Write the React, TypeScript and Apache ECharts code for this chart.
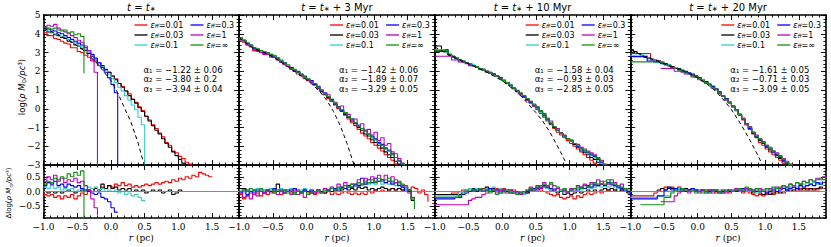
import React, { useEffect, useRef } from 'react';
import * as echarts from 'echarts';

// ---------- data ----------
const rBins = [-1.0,-0.95,-0.9,-0.85,-0.8,-0.75,-0.7,-0.65,-0.6,-0.55,-0.5,-0.45,-0.4,-0.35,-0.3,-0.25,-0.2,-0.15,-0.1,-0.05,0.0,0.05,0.1,0.15,0.2,0.25,0.3,0.35,0.4,0.45,0.5,0.55,0.6,0.65,0.7,0.75,0.8,0.85,0.9,0.95,1.0,1.05,1.1,1.15,1.2,1.25,1.3,1.35,1.4,1.45,1.5,1.55,1.6,1.65,1.7,1.75,1.8,1.85,1.9];

const effLabels = ['0.01', '0.03', '0.1', '0.3', '1', '∞'];
const seriesColors = ['#ff0000', '#000000', '#33cccc', '#0000ff', '#bf00bf', '#138f13'];
const titleSuffix = ['', ' + 3 Myr', ' + 10 Myr', ' + 20 Myr'];
const alpha1 = ['−1.22 ± 0.06', '−1.42 ± 0.06', '−1.58 ± 0.04', '−1.61 ± 0.05'];
const alpha2 = ['−3.80 ± 0.2', '−1.89 ± 0.07', '−0.93 ± 0.03', '−0.71 ± 0.03'];
const alpha3 = ['−3.94 ± 0.04', '−3.29 ± 0.05', '−2.85 ± 0.05', '−3.09 ± 0.05'];
const alphaSubs = ['₁', '₂', '₃'];
const _ = null;

// panel 1 (t = t*) density profiles
const red1 = [4.05,3.90,3.90,3.75,3.70,3.60,3.50,3.45,3.25,3.25,3.05,3.00,2.85,2.75,2.60,2.50,2.30,2.25,2.05,1.95,1.75,1.60,1.35,1.20,0.95,0.80,0.50,0.35,0.10,-0.10,-0.40,-0.60,-0.85,-1.05,-1.30,-1.50,-1.80,-1.95,-2.25,-2.35,-2.55,-2.65,-2.85,-2.95,-3.20];
const black1 = [4.20,4.10,4.05,3.95,3.90,3.80,3.75,3.60,3.55,3.40,3.35,3.20,3.10,2.95,2.80,2.60,2.45,2.30,2.10,1.95,1.75,1.55,1.35,1.15,0.95,0.70,0.50,0.30,0.05,-0.15,-0.40,-0.65,-0.90,-1.15,-1.35,-1.60,-1.85,-2.05,-2.30,-2.50,-2.70,-2.90,-3.10];
const cyan1 = [4.25,4.15,4.10,4.00,3.95,3.85,3.80,3.70,3.60,3.50,3.40,3.30,3.15,3.00,2.85,2.65,2.45,2.25,2.05,1.85,1.60,1.40,1.15,0.95,0.70,0.45,0.20,-0.05,-0.45,-0.85,-5];
const blue1 = [4.30,4.25,4.20,4.15,4.05,4.00,3.90,3.80,3.70,3.60,3.50,3.40,3.25,3.10,2.90,2.70,2.45,2.20,1.95,1.65,1.30,0.85,-5];
const magenta1 = [4.35,4.45,4.40,4.50,4.30,4.20,4.10,4.00,3.90,3.80,3.65,3.55,3.35,3.10,2.55,1.95,-5];
const green1 = [4.35,4.30,4.25,4.30,4.20,4.15,4.20,4.05,4.10,3.95,4.00,3.85,1.90];
const fitR1 = [-1.0,-0.8,-0.6,-0.4,-0.2,0.0,0.1,0.2,0.3,0.4,0.5,0.55];
const fitV1 = [4.3,4.0,3.6,3.1,2.4,1.5,0.85,0.05,-0.75,-1.8,-3.1,-3.9];

// panel 1 residuals
const red1b = [-0.10,-0.15,-0.10,-0.20,-0.15,-0.25,-0.15,-0.20,-0.10,-0.25,-0.15,-0.05,-0.10,0.05,0.00,0.10,0.05,0.15,0.10,0.20,0.15,0.25,0.20,0.30,0.20,0.25,0.15,0.20,0.15,0.20,0.25,0.20,0.25,0.30,0.25,0.30,0.35,0.30,0.40,0.35,0.45,0.40,0.50,0.45,0.55,0.50,0.65,0.60,0.55,0.50,0.50];
const black1b = [0.00,-0.05,0.00,-0.05,0.00,-0.05,0.00,0.05,0.00,-0.05,0.00,0.05,0.00,0.05,0.00,0.10,0.05,0.25,0.10,0.20,0.10,0.15,0.05,0.10,0.05,0.10,0.00,0.05,0.00,0.05,-0.05,0.00,0.05,0.00,0.05,-0.05,0.00,0.05,-0.10,-0.05,0.05,0.00];
const cyan1b = [0.15,0.10,0.20,0.10,0.15,0.05,0.10,0.05,0.10,0.00,0.05,0.10,0.05,0.15,0.10,0.15,0.05,0.10,0.00,0.05,0.00,0.05,-0.05,0.00,-0.10,-0.05,-0.15,-0.10,-0.20,-0.30,-0.35];
const blue1b = [0.20,0.30,0.25,0.35,0.20,0.25,0.15,0.25,0.20,0.15,0.20,0.10,0.05,0.00,-0.05,-0.10,-0.05,-0.20,-0.25,-0.35,-0.55,-0.70,-0.70];
const magenta1b = [0.35,0.50,0.40,0.55,0.35,0.45,0.30,0.40,0.35,0.45,0.30,0.35,0.20,0.05,-0.25,-0.55,-0.80];
const green1b = [0.25,0.35,0.30,0.45,0.40,0.50,0.45,0.60,0.50,0.65,0.55,0.70,-2];

// panel 2 (t* + 3 Myr)
const red2 = [3.70,3.55,3.40,3.30,3.10,3.10,3.05,2.95,2.90,2.85,2.75,2.65,2.50,2.40,2.25,2.15,2.00,1.95,1.75,1.70,1.50,1.45,1.25,1.15,0.90,0.80,0.55,0.40,0.20,0.00,-0.15,-0.35,-0.55,-0.75,-0.90,-1.10,-1.30,-1.45,-1.60,-1.80,-1.95,-2.10,-2.25,-2.45,-2.60,-2.75,-2.95,-3.10,-3.30];
const black2 = [3.80,3.65,3.50,3.35,3.25,3.15,3.10,3.00,2.95,2.85,2.80,2.65,2.55,2.45,2.30,2.20,2.05,2.00,1.80,1.70,1.55,1.45,1.30,1.10,0.95,0.75,0.60,0.40,0.25,0.05,-0.10,-0.30,-0.45,-0.65,-0.80,-1.00,-1.15,-1.35,-1.45,-1.65,-1.80,-1.95,-2.10,-2.30,-2.45,-2.60,-2.80,-2.95,-3.20];
const cyan2 = [3.75,3.60,3.55,3.35,3.20,3.20,3.05,3.05,2.95,2.90,2.80,2.70,2.55,2.45,2.30,2.20,2.05,1.95,1.85,1.70,1.60,1.45,1.35,1.15,1.00,0.80,0.65,0.45,0.30,0.10,-0.05,-0.20,-0.40,-0.55,-0.75,-0.85,-1.05,-1.20,-1.35,-1.50,-1.65,-1.80,-1.95,-2.10,-2.25,-2.45,-2.60,-2.80,-2.95,-3.15];
const blue2 = [3.70,3.65,3.45,3.40,3.20,3.15,3.00,3.00,2.90,2.85,2.75,2.70,2.50,2.45,2.25,2.20,2.00,1.95,1.80,1.75,1.55,1.50,1.30,1.20,0.95,0.85,0.60,0.50,0.25,0.10,-0.10,-0.20,-0.45,-0.55,-0.75,-0.90,-1.05,-1.15,-1.35,-1.45,-1.60,-1.80,-1.90,-2.10,-2.20,-2.40,-2.60,-2.75,-2.95,-3.15];
const magenta2 = [3.65,3.60,3.40,3.35,3.15,3.05,3.00,2.90,2.90,2.75,2.75,2.60,2.50,2.35,2.25,2.10,2.05,1.85,1.80,1.60,1.55,1.40,1.35,1.05,1.00,0.75,0.75,0.40,0.35,0.05,0.15,-0.25,-0.30,-0.60,-0.55,-0.95,-0.80,-1.15,-1.10,-1.40,-1.25,-1.70,-1.55,-1.95,-1.85,-2.30,-2.40,-2.65,-2.90,-3.10];
const green2 = [3.80,3.65,3.50,3.40,3.25,3.20,3.10,3.05,3.00,2.90,2.85,2.70,2.60,2.45,2.35,2.15,2.10,1.95,1.85,1.70,1.60,1.45,1.35,1.15,1.00,0.80,0.65,0.45,0.30,0.10,-0.05,-0.20,-0.40,-0.55,-0.75,-0.90,-1.05,-1.20,-1.35,-1.55,-1.65,-1.85,-1.95,-2.15,-2.25,-2.45,-2.60,-2.80,-2.95,-3.20];
const fitR2 = [-1.0,-0.8,-0.6,-0.4,-0.2,0.0,0.1,0.2,0.3,0.4,0.5,0.6,0.7,0.75];
const fitV2 = [3.8,3.25,2.95,2.55,2.05,1.55,1.25,0.9,0.45,-0.15,-0.9,-1.85,-2.95,-3.6];

const red2b = [-0.10,-0.25,-0.15,-0.05,-0.10,-0.05,-0.15,-0.05,-0.10,0.00,-0.05,0.00,-0.10,-0.05,0.00,-0.05,0.00,-0.10,-0.05,0.00,-0.05,0.00,-0.10,-0.05,0.00,-0.05,0.00,-0.10,-0.05,-0.10,-0.05,0.00,-0.05,-0.10,-0.05,-0.10,-0.05,-0.10,0.00,-0.05,0.05,0.00,0.05,0.00,0.05,0.10,0.05,0.10,0.05,0.10,0.05,0.15,0.10,-0.05,0.05,-0.10,-0.35];
const black2b = [0.10,0.10,0.05,0.00,0.05,0.00,0.05,0.00,0.05,0.00,0.05,0.25,0.00,0.05,0.00,0.05,-0.05,0.05,0.00,0.05,0.00,-0.05,0.00,0.05,0.00,-0.05,0.05,0.00,0.05,0.00,0.05,0.10,0.05,0.10,0.05,0.15,0.10,0.15,0.05,0.10,0.05,0.10,0.15,0.10,0.05,0.10,0.05,0.10,0.05,0.00,0.05,-0.30,-0.30];
const cyan2b = [0.05,-0.05,0.00,0.05,0.00,0.10,0.05,0.00,0.05,0.10,0.00,0.05,0.10,0.05,0.00,0.10,0.05,0.00,0.05,0.10,0.00,0.05,0.00,0.05,-0.05,0.05,0.00,0.10,0.05,0.10,0.15,0.10,0.20,0.15,0.20,0.25,0.20,0.30,0.25,0.30,0.25,0.35,0.25,0.30,0.25,0.30,0.20,0.25,0.15,0.10,0.05];
const blue2b = [-0.05,0.05,-0.10,0.00,-0.05,0.05,0.00,-0.05,0.05,0.00,0.10,0.00,0.05,-0.05,0.05,0.00,0.10,0.00,-0.05,0.05,0.00,0.05,-0.05,0.05,0.00,0.10,0.05,0.00,0.10,0.05,0.15,0.10,0.20,0.15,0.25,0.20,0.45,0.25,0.40,0.30,0.45,0.35,0.40,0.30,0.35,0.25,0.30,0.20,0.15,0.05,0.00,-0.10];
const magenta2b = [-0.05,-0.20,-0.15,-0.25,-0.10,-0.15,0.00,-0.05,0.05,-0.05,0.00,-0.10,0.05,-0.05,0.00,-0.10,0.05,-0.10,0.00,-0.20,-0.10,0.00,-0.05,0.05,-0.05,0.10,0.00,0.15,0.05,0.25,0.10,0.30,0.15,0.25,0.20,0.40,0.25,0.45,0.30,0.50,0.35,0.55,0.40,0.55,0.35,0.50,0.30,0.35,0.20,0.15,-0.05,-0.20,-0.30];
const green2b = [0.00,0.05,0.00,0.10,0.05,0.00,0.10,0.05,0.00,0.05,-0.05,0.05,0.00,0.05,-0.05,0.00,-0.10,0.00,-0.05,0.00,-0.10,-0.05,0.00,0.05,-0.05,0.05,0.00,0.10,0.05,0.15,0.10,0.20,0.15,0.25,0.20,0.30,0.25,0.35,0.30,0.40,0.30,0.45,0.35,0.40,0.45,0.35,0.40,0.30,0.25,0.20,0.05,-0.25,-0.60];

// panel 3 (t* + 10 Myr)
const red3 = [3.15,3.15,3.05,3.00,2.85,2.80,2.70,2.60,2.55,2.45,2.40,2.30,2.25,2.15,2.10,2.00,1.90,1.85,1.75,1.65,1.55,1.40,1.25,1.10,0.95,0.80,0.60,0.45,0.30,0.15,-0.05,-0.25,-0.45,-0.65,-0.85,-1.05,-1.25,-1.40,-1.55,-1.70,-1.85,-2.00,-2.15,-2.30,-2.45,-2.60,-2.75,-2.90,-3.05,-3.20];
const black3 = [3.35,3.35,3.15,3.15,2.90,2.80,2.70,2.60,2.50,2.45,2.40,2.30,2.25,2.15,2.10,2.00,1.95,1.85,1.75,1.65,1.50,1.40,1.25,1.10,0.95,0.80,0.65,0.50,0.35,0.15,0.00,-0.20,-0.40,-0.60,-0.80,-1.00,-1.15,-1.30,-1.45,-1.60,-1.75,-1.90,-2.05,-2.20,-2.35,-2.45,-2.60,-2.70,-2.85,-3.00,-3.15];
const cyan3 = [3.15,3.15,3.15,3.00,2.90,2.75,2.70,2.60,2.55,2.45,2.40,2.35,2.25,2.15,2.10,2.00,1.95,1.85,1.75,1.65,1.55,1.40,1.30,1.10,1.00,0.80,0.65,0.50,0.35,0.20,0.00,-0.20,-0.40,-0.60,-0.80,-0.95,-1.15,-1.30,-1.45,-1.60,-1.75,-1.85,-2.00,-2.15,-2.25,-2.40,-2.50,-2.60,-2.75,-2.90,-3.05];
const blue3 = [3.05,3.05,3.05,3.05,2.85,2.75,2.65,2.60,2.50,2.45,2.35,2.30,2.25,2.15,2.05,2.00,1.90,1.85,1.75,1.65,1.50,1.40,1.25,1.10,0.95,0.80,0.65,0.50,0.35,0.20,0.05,-0.15,-0.35,-0.55,-0.80,-1.00,-1.15,-1.30,-1.45,-1.60,-1.70,-1.85,-2.00,-2.10,-2.25,-2.35,-2.45,-2.55,-2.70,-2.85,-3.05];
const magenta3 = [2.80,2.80,2.80,2.80,2.80,2.60,2.60,2.50,2.50,2.40,2.30,2.30,2.20,2.10,2.05,1.95,1.90,1.80,1.75,1.60,1.50,1.35,1.25,1.05,0.95,0.75,0.70,0.45,0.40,0.15,0.10,-0.15,-0.25,-0.55,-0.65,-0.95,-1.05,-1.30,-1.40,-1.60,-1.65,-1.85,-1.90,-2.05,-2.15,-2.25,-2.35,-2.45,-2.60,-2.75,-2.95,-3.10];
const green3 = [3.10,3.10,3.10,3.10,2.90,2.75,2.70,2.60,2.55,2.45,2.40,2.30,2.25,2.15,2.05,2.00,1.90,1.80,1.75,1.60,1.50,1.40,1.25,1.10,0.95,0.85,0.70,0.55,0.40,0.25,0.10,-0.10,-0.30,-0.50,-0.75,-0.95,-1.15,-1.30,-1.45,-1.60,-1.70,-1.85,-1.95,-2.10,-2.20,-2.30,-2.40,-2.50,-2.65,-2.80,-3.00,-3.15];
const fitR3 = [-1.0,-0.8,-0.6,-0.4,-0.2,0.0,0.2,0.3,0.4,0.5,0.6,0.7,0.8,0.9,1.0];
const fitV3 = [3.3,2.9,2.55,2.25,1.9,1.5,0.95,0.6,0.2,-0.2,-0.65,-1.2,-1.85,-2.55,-3.3];

const red3b = [-0.10,-0.10,-0.10,-0.10,-0.10,-0.05,-0.05,0.00,0.05,0.00,0.10,0.05,0.10,0.05,0.10,0.05,0.10,0.05,0.10,0.05,0.10,0.05,0.00,0.05,0.00,-0.05,0.00,-0.05,0.00,0.05,0.10,0.05,0.00,-0.05,-0.10,-0.15,-0.10,-0.20,-0.25,-0.20,-0.15,-0.25,-0.15,-0.20,-0.10,-0.05,-0.10,-0.05,0.00,-0.05,0.00,0.05,0.00,0.05,0.10,0.05,0.00,-0.05];
const black3b = [-0.10,-0.10,-0.10,-0.10,-0.10,-0.10,-0.10,-0.10,0.00,0.05,0.00,0.10,0.05,0.10,0.05,0.15,0.05,0.10,0.05,0.00,0.05,0.00,0.05,-0.05,0.00,-0.05,0.00,-0.05,0.05,0.10,0.15,0.10,0.15,0.10,0.05,0.00,-0.05,0.00,-0.10,-0.05,-0.10,-0.05,0.00,-0.05,0.00,0.05,0.00,0.05,0.00,0.05,0.10,0.05,0.10,0.05,0.00,0.05,0.00,-0.05,-0.05];
const cyan3b = [-0.15,-0.15,-0.15,-0.15,-0.15,-0.15,-0.15,-0.05,0.00,0.05,0.10,0.05,0.10,0.00,0.05,0.10,0.05,0.15,0.05,0.10,0.00,0.05,0.00,-0.05,0.00,-0.05,-0.10,0.00,0.05,0.10,0.15,0.10,0.15,0.10,0.05,0.10,0.00,0.05,-0.05,0.00,0.05,0.00,0.10,0.05,0.10,0.15,0.10,0.15,0.20,0.15,0.20,0.15,0.20,0.15,0.10,0.15,0.05,0.00];
const blue3b = [-0.25,-0.25,-0.25,-0.25,-0.25,-0.25,-0.20,-0.20,-0.10,-0.05,0.00,0.05,0.00,0.05,0.00,0.05,0.10,0.00,0.05,-0.05,0.05,0.00,-0.05,0.00,-0.05,-0.10,-0.05,0.00,0.05,0.10,0.05,0.15,0.20,0.15,0.10,0.05,0.10,0.00,0.05,0.00,0.05,0.10,0.05,0.15,0.10,0.20,0.15,0.25,0.20,0.25,0.20,0.30,0.25,0.20,0.15,0.10,0.05,0.00,-0.15];
const magenta3b = [-0.45,-0.45,-0.45,-0.45,-0.45,-0.45,-0.45,-0.45,-0.45,-0.45,-0.30,-0.25,-0.20,-0.20,-0.10,-0.05,0.00,0.05,-0.05,0.05,0.00,-0.05,0.05,-0.05,0.00,-0.10,0.00,0.05,0.15,0.05,0.20,0.10,0.30,0.15,0.25,0.05,0.10,0.00,0.05,-0.05,0.10,0.05,0.20,0.10,0.25,0.15,0.30,0.20,0.40,0.25,0.35,0.25,0.40,0.30,0.20,0.25,0.10,0.05];
const green3b = [-0.20,-0.20,-0.20,-0.20,-0.20,-0.20,-0.20,-0.15,-0.05,0.00,0.05,0.00,0.05,0.10,0.00,0.05,-0.05,0.05,-0.10,0.00,-0.05,0.05,-0.05,0.00,-0.10,-0.05,0.00,0.05,0.10,0.05,0.15,0.20,0.25,0.20,0.30,0.20,0.15,0.05,0.10,0.00,0.05,0.10,0.15,0.10,0.20,0.15,0.25,0.30,0.25,0.35,0.25,0.40,0.30,0.25,0.20,0.15,0.10,0.05,0.05];

// panel 4 (t* + 20 Myr)
const red4 = [2.95,2.95,2.95,2.95,2.95,2.95,2.60,2.55,2.55,2.45,2.40,2.30,2.25,2.15,2.10,2.05,1.95,1.90,1.80,1.75,1.65,1.55,1.40,1.30,1.15,1.00,0.85,0.65,0.50,0.30,0.10,-0.10,-0.35,-0.60,-0.85,-1.10,-1.35,-1.55,-1.80,-1.95,-2.15,-2.30,-2.45,-2.60,-2.75,-2.90,-3.05,-3.20];
const black4 = [3.15,3.05,2.95,2.85,2.75,2.70,2.65,2.60,2.55,2.45,2.40,2.35,2.25,2.20,2.15,2.05,2.00,1.90,1.85,1.75,1.65,1.55,1.45,1.30,1.20,1.05,0.90,0.70,0.55,0.35,0.15,-0.05,-0.30,-0.55,-0.80,-1.05,-1.30,-1.50,-1.70,-1.85,-2.05,-2.20,-2.35,-2.50,-2.65,-2.80,-2.95,-3.10];
const cyan4 = [2.85,2.85,2.85,2.85,2.85,2.65,2.65,2.55,2.45,2.45,2.35,2.35,2.20,2.20,2.10,2.05,1.95,1.90,1.80,1.70,1.65,1.55,1.40,1.30,1.15,1.00,0.85,0.70,0.50,0.35,0.15,-0.10,-0.30,-0.55,-0.80,-1.05,-1.25,-1.45,-1.65,-1.85,-2.00,-2.15,-2.30,-2.45,-2.60,-2.75,-2.90,-3.05,-3.20];
const blue4 = [2.78,2.78,2.78,2.78,2.78,2.55,2.55,2.50,2.50,2.40,2.35,2.30,2.20,2.15,2.10,2.00,1.95,1.90,1.80,1.70,1.65,1.50,1.45,1.30,1.20,1.05,0.85,0.70,0.55,0.35,0.15,-0.05,-0.30,-0.55,-0.80,-1.05,-1.25,-1.50,-1.65,-1.85,-2.00,-2.15,-2.30,-2.45,-2.60,-2.75,-2.90,-3.05,-3.20];
const magenta4 = [_,_,_,_,_,_,_,_,_,2.15,2.15,2.15,2.15,2.00,2.00,1.95,1.85,1.85,1.70,1.70,1.55,1.50,1.35,1.30,1.10,1.05,0.80,0.70,0.45,0.35,0.10,-0.05,-0.35,-0.50,-0.85,-0.95,-1.25,-1.40,-1.60,-1.75,-1.95,-2.05,-2.25,-2.35,-2.50,-2.65,-2.80,-2.95,-3.10];
const green4 = [2.50,2.50,2.50,2.50,2.50,2.50,2.50,2.50,2.50,2.50,2.35,2.30,2.20,2.15,2.05,2.00,1.90,1.85,1.75,1.70,1.60,1.50,1.40,1.30,1.15,1.05,0.85,0.70,0.50,0.35,0.15,-0.05,-0.30,-0.55,-0.80,-1.00,-1.25,-1.45,-1.60,-1.80,-1.95,-2.10,-2.25,-2.40,-2.55,-2.70,-2.85,-3.00,-3.15];
const fitR4 = [-1.0,-0.8,-0.6,-0.4,-0.2,0.0,0.2,0.3,0.4,0.5,0.6,0.7,0.8,0.9,1.0];
const fitV4 = [3.15,2.8,2.55,2.25,2.0,1.65,1.15,0.8,0.4,-0.05,-0.6,-1.2,-1.85,-2.55,-3.3];

const red4b = [-0.15,-0.15,-0.15,-0.15,-0.15,-0.15,-0.15,-0.05,0.00,0.10,0.15,0.10,0.15,0.10,0.15,0.05,0.10,0.05,0.10,0.00,0.05,0.00,0.05,0.00,0.05,-0.05,0.00,-0.05,0.00,-0.05,0.00,0.05,0.00,-0.05,0.00,-0.05,-0.10,-0.15,-0.10,-0.15,-0.10,-0.05,-0.10,-0.05,0.00,-0.05,0.00,0.05,0.00,0.05,0.10,0.05,0.10,0.05,0.10,0.05,0.10,0.10];
const black4b = [0.00,0.00,0.00,0.00,0.00,0.00,0.00,0.00,0.05,0.10,0.05,0.15,0.10,0.05,0.10,0.05,0.10,0.05,0.10,0.05,0.00,0.05,0.00,0.05,0.00,0.05,0.00,-0.05,0.00,0.05,0.00,0.05,0.00,0.05,0.00,0.05,-0.05,0.00,-0.05,-0.10,-0.05,-0.10,-0.05,0.00,-0.05,0.00,0.05,0.00,0.05,0.10,0.05,0.10,0.05,0.10,0.05,0.10,0.15,0.10];
const cyan4b = [-0.20,-0.20,-0.20,-0.20,-0.20,-0.20,-0.20,-0.20,-0.15,-0.15,-0.15,-0.15,0.00,0.05,0.10,0.05,0.00,0.05,0.10,0.05,0.00,0.05,0.00,-0.05,0.05,0.00,0.05,-0.05,0.00,0.05,0.00,0.05,0.10,0.05,0.00,0.05,0.00,-0.05,0.00,0.05,0.00,0.05,0.10,0.05,0.10,0.15,0.10,0.15,0.20,0.15,0.20,0.25,0.20,0.25,0.30,0.25,0.30,0.25];
const blue4b = [-0.25,-0.25,-0.25,-0.25,-0.25,-0.25,-0.25,-0.25,-0.15,-0.15,0.05,0.10,0.05,0.10,0.05,0.10,0.00,0.05,0.10,0.05,0.00,0.05,-0.05,0.00,0.05,0.00,-0.05,0.00,0.05,0.00,0.05,0.00,0.05,0.10,0.05,0.10,0.05,0.00,0.05,0.00,-0.05,0.00,0.05,0.00,0.05,0.10,0.05,0.10,0.15,0.10,0.20,0.15,0.20,0.25,0.20,0.30,0.25,0.35];
const magenta4b = [_,_,_,_,_,_,_,_,_,-0.35,-0.35,-0.35,-0.35,-0.15,-0.05,0.00,0.05,-0.05,0.05,0.00,-0.05,0.05,0.00,0.05,-0.05,0.05,0.00,0.05,-0.05,0.05,0.00,0.10,0.05,0.00,0.10,0.05,0.00,0.05,0.10,0.00,0.05,0.10,0.05,0.15,0.10,0.20,0.15,0.25,0.20,0.30,0.25,0.35,0.30,0.40,0.35,0.45,0.40,0.50,0.45];
const green4b = [_,_,_,-0.45,-0.45,-0.45,-0.45,-0.45,-0.45,-0.45,-0.20,-0.20,-0.05,0.05,0.00,0.10,0.05,0.00,0.05,-0.05,0.00,-0.05,0.05,-0.05,0.00,0.05,-0.05,0.05,0.00,0.05,0.00,0.05,0.10,0.05,0.15,0.10,0.05,0.10,0.00,0.05,0.10,0.05,0.15,0.10,0.15,0.20,0.15,0.25,0.20,0.30,0.25,0.35,0.30,0.40,0.35,0.40,0.45,0.40,0.50];

const topData = [
  [red1, black1, cyan1, blue1, magenta1, green1],
  [red2, black2, cyan2, blue2, magenta2, green2],
  [red3, black3, cyan3, blue3, magenta3, green3],
  [red4, black4, cyan4, blue4, magenta4, green4],
];
const botData = [
  [red1b, black1b, cyan1b, blue1b, magenta1b, green1b],
  [red2b, black2b, cyan2b, blue2b, magenta2b, green2b],
  [red3b, black3b, cyan3b, blue3b, magenta3b, green3b],
  [red4b, black4b, cyan4b, blue4b, magenta4b, green4b],
];
const fitR = [fitR1, fitR2, fitR3, fitR4];
const fitV = [fitV1, fitV2, fitV3, fitV4];

// ---------- layout ----------
const LEFT0 = 43.5;
const PW = 195.6;
const TOP_Y = 15;
const TOP_H = 150;
const BOT_Y = 165;
const BOT_H = 53;
const SERIF = 'DejaVu Serif';
const SANS = 'DejaVu Sans';

const fmt1 = (v: number) => {
  const s = Math.abs(v).toFixed(1);
  return v < -1e-9 ? '−' + s : s;
};
const fmt0 = (v: number) => {
  const s = Math.abs(v).toFixed(0);
  return v < -1e-9 ? '−' + s : s;
};

const tickStyle = { color: '#000', width: 0.9 };

function xAxesFor(g: number, showLabels: boolean) {
  const base = { type: 'value', gridIndex: g, min: -1, max: 1.9, splitLine: { show: false } };
  const main = (pos: string) => ({
    ...base, position: pos, interval: 0.5,
    axisLine: { show: true, onZero: false, lineStyle: { color: '#000', width: 1.6 } },
    axisTick: { show: true, inside: true, length: 5, lineStyle: tickStyle },
    axisLabel: { show: showLabels && pos === 'bottom', showMaxLabel: false, formatter: fmt1, fontFamily: SERIF, fontSize: 9, color: '#000', margin: 4 },
  });
  const minor = (pos: string) => ({
    ...base, position: pos, interval: 0.1,
    axisLine: { show: false, onZero: false },
    axisTick: { show: true, inside: true, length: 2.5, lineStyle: tickStyle },
    axisLabel: { show: false },
  });
  return [main('bottom'), minor('bottom'), main('top'), minor('top')];
}

function yAxesFor(g: number, isTop: boolean, showLabels: boolean) {
  const base = { type: 'value', gridIndex: g, min: isTop ? -3 : -0.9, max: isTop ? 5 : 0.9, splitLine: { show: false } };
  const majorVals = [-0.5, 0, 0.5];
  const main = (pos: string) => ({
    ...base, position: pos,
    ...(isTop ? { interval: 1 } : {}),
    axisLine: { show: true, onZero: false, lineStyle: { color: '#000', width: 1.6 } },
    axisTick: isTop
      ? { show: true, inside: true, length: 5, lineStyle: tickStyle }
      : { show: true, inside: true, length: 5, lineStyle: tickStyle, customValues: majorVals },
    axisLabel: {
      show: showLabels && pos === 'left', formatter: isTop ? fmt0 : fmt1,
      fontFamily: SERIF, fontSize: 9, color: '#000', margin: 3,
      ...(isTop ? {} : { customValues: majorVals }),
    },
  });
  const minor = (pos: string) => ({
    ...base, position: pos, interval: isTop ? 0.2 : 0.1,
    axisLine: { show: false, onZero: false },
    axisTick: { show: true, inside: true, length: 2.5, lineStyle: tickStyle },
    axisLabel: { show: false },
  });
  return [main('left'), minor('left'), main('right'), minor('right')];
}

const toPairs = (arr: (number | null)[]) => arr.map((v, i) => [rBins[i], v === null ? '-' : v]);

export default function App() {
  const ref = useRef<HTMLDivElement>(null);
  useEffect(() => {
    if (!ref.current) return;
    const chart = echarts.init(ref.current, null, { renderer: 'svg' });
    const grids: any[] = [];
    const xAxes: any[] = [];
    const yAxes: any[] = [];
    const series: any[] = [];
    const graphics: any[] = [];

    for (let p = 0; p < 4; p++) {
      const L = LEFT0 + p * PW;
      for (let part = 0; part < 2; part++) {
        const g = p * 2 + part;
        grids.push({
          left: L, width: PW,
          top: part === 0 ? TOP_Y : BOT_Y, height: part === 0 ? TOP_H : BOT_H,
          containLabel: false, outerBoundsMode: 'none',
        });
        xAxes.push(...xAxesFor(g, part === 1));
        yAxes.push(...yAxesFor(g, part === 0, p === 0));
        const dataSet = part === 0 ? topData[p] : botData[p];
        dataSet.forEach((arr, k) => {
          const s: any = {
            type: 'line', name: 'eff ' + effLabels[k], xAxisIndex: 4 * g, yAxisIndex: 4 * g,
            step: 'end', symbol: 'none', showSymbol: false, silent: true, clip: true,
            lineStyle: { color: seriesColors[k], width: 1.1 }, itemStyle: { color: seriesColors[k] },
            data: toPairs(arr), z: 2 + k,
          };
          if (part === 1 && k === 0) {
            s.markLine = {
              silent: true, symbol: ['none', 'none'], label: { show: false },
              lineStyle: { color: '#8a8a8a', width: 1.2, type: 'solid' },
              data: [{ yAxis: 0 }],
            };
          }
          series.push(s);
        });
        if (part === 0) {
          series.push({
            type: 'line', name: 'fit', xAxisIndex: 4 * g, yAxisIndex: 4 * g,
            symbol: 'none', showSymbol: false, silent: true, clip: true, z: 10,
            lineStyle: { color: '#000', width: 1, type: [4, 3] },
            data: fitR[p].map((r, i) => [r, fitV[p][i]]),
          });
        }
      }

      // title
      graphics.push({
        type: 'text', x: L + PW / 2, y: 7, z: 100,
        style: {
          text: `{i|t}{n| = }{i|t}{s|∗}{n|${titleSuffix[p]}}`,
          align: 'center', verticalAlign: 'middle',
          rich: {
            i: { fontFamily: SANS, fontStyle: 'italic', fontSize: 10, fill: '#000', lineHeight: 11 },
            n: { fontFamily: SANS, fontSize: 10, fill: '#000', lineHeight: 11 },
            s: { fontFamily: SANS, fontSize: 7, fill: '#000', lineHeight: 7, verticalAlign: 'bottom' },
          },
        },
      });

      // legend
      for (let k = 0; k < 6; k++) {
        const col = k < 3 ? 0 : 1;
        const row = k % 3;
        const x0 = L + (col === 0 ? 91 : 147);
        const y = 25 + row * 10;
        graphics.push({
          type: 'line', z: 100,
          shape: { x1: x0, y1: y, x2: x0 + 13, y2: y },
          style: { stroke: seriesColors[k], lineWidth: 1.3 },
        });
        graphics.push({
          type: 'text', x: x0 + 16, y, z: 100,
          style: {
            text: `{e|ε}{s|ff}{n|=${effLabels[k]}}`,
            align: 'left', verticalAlign: 'middle',
            rich: {
              e: { fontFamily: SANS, fontStyle: 'italic', fontSize: 8, fill: '#000', lineHeight: 8.5 },
              s: { fontFamily: SANS, fontStyle: 'italic', fontSize: 5.5, fill: '#000', lineHeight: 5, verticalAlign: 'bottom' },
              n: { fontFamily: SANS, fontSize: 8, fill: '#000', lineHeight: 8.5 },
            },
          },
        });
      }

      // alpha annotations
      const alphas = [alpha1[p], alpha2[p], alpha3[p]];
      alphas.forEach((val, j) => {
        graphics.push({
          type: 'text', x: L + 100, y: 69.5 + j * 9.5, z: 100,
          style: {
            text: `α${alphaSubs[j]} = ${val}`,
            align: 'left', verticalAlign: 'middle',
            fontFamily: SANS, fontSize: 8.5, fill: '#000', lineHeight: 8.5,
          },
        });
      });

      // x axis name
      graphics.push({
        type: 'text', x: L + PW / 2, y: 238, z: 100,
        style: {
          text: '{i|r}{n| (pc)}', align: 'center', verticalAlign: 'middle',
          rich: {
            i: { fontFamily: SERIF, fontStyle: 'italic', fontSize: 9, fill: '#000' },
            n: { fontFamily: SERIF, fontSize: 9, fill: '#000' },
          },
        },
      });
    }

    // y axis names
    const yNameRich = (fs: number) => ({
      r: { fontFamily: SANS, fontSize: fs, fill: '#000', lineHeight: fs + 1 },
      i: { fontFamily: SANS, fontStyle: 'italic', fontSize: fs, fill: '#000', lineHeight: fs + 1 },
      s: { fontFamily: SANS, fontSize: fs * 0.7, fill: '#000', lineHeight: fs * 0.7, verticalAlign: 'bottom' },
    });
    graphics.push({
      type: 'text', x: 22, y: 87, rotation: Math.PI / 2, z: 100,
      style: {
        text: '{r|log(}{i|ρ M}{s|⊙}{i|/pc}{r|³)}', align: 'center', verticalAlign: 'middle',
        rich: yNameRich(8.5),
      },
    });
    graphics.push({
      type: 'text', x: 9, y: 193, rotation: Math.PI / 2, z: 100,
      style: {
        text: '{r|Δlog(}{i|ρ M}{s|⊙}{i|/pc}{r|³)}', align: 'center', verticalAlign: 'middle',
        rich: yNameRich(7),
      },
    });

    chart.setOption({
      animation: false,
      backgroundColor: '#ffffff',
      grid: grids,
      xAxis: xAxes,
      yAxis: yAxes,
      series,
      graphic: graphics,
    });
    return () => chart.dispose();
  }, []);
  return <div ref={ref} style={{ position: 'absolute', left: 0, top: 0, width: 831, height: 247 }} />;
}
